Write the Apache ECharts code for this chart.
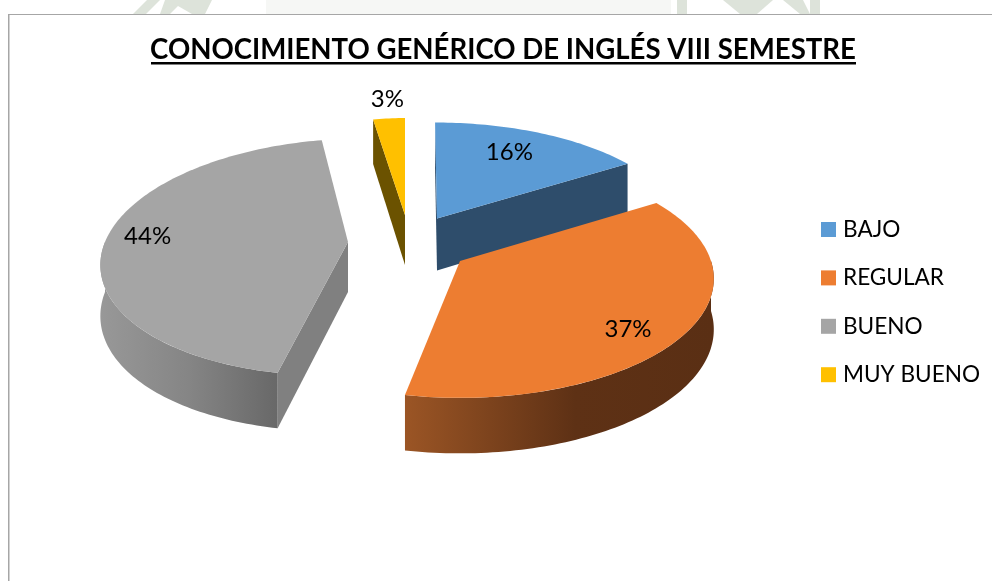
<!DOCTYPE html>
<html>
<head>
<meta charset="utf-8">
<style>html,body{margin:0;padding:0;background:#fff}#c{width:992px;height:581px}</style>
<script src="https://cdn.jsdelivr.net/npm/echarts@6/dist/echarts.min.js"></script>
</head>
<body>
<div id="c"></div>
<script>
var titleText = 'CONOCIMIENTO GENÉRICO DE INGLÉS VIII SEMESTRE';
var categories = ['BAJO', 'REGULAR', 'BUENO', 'MUY BUENO'];
var shares = [16, 37, 44, 3];
var colors = ['#5B9BD5', '#ED7D31', '#A5A5A5', '#FFC000'];

// Layout only: where each exploded slice's apex sits and how its ellipse is shaped
var sliceLayout = [
  {tip:[437,218.5], rx:245, ryk:0.945, p:0.148, skew:0.02, extra:2, face:'#2E4D6B',
   wall:[[0,'#2E4D6B'],[1,'#2E4D6B']], z:3, label:[0.75,-7,0]},
  {tip:[460,261], rx:251, ryk:1, p:0.148, skew:0, extra:0, face:'#7A3F18',
   wall:[[0,'#9B5525'],[0.55,'#5E3115'],[1,'#5A2F14']], z:4, label:[0.75,2,16]},
  {tip:[348,242], rx:243, ryk:1, p:0.127, skew:-0.14, extra:0, face:'#808080',
   wall:[[0,'#989898'],[0.5,'#858585'],[1,'#686868']], z:2, label:[0.8,-6,-6]},
  {tip:[405,215], rx:195, ryk:0.955, p:0.148, skew:0, extra:0, face:'#6B5200',
   wall:[[0,'#6B5200'],[1,'#6B5200']], z:2, label:[1.2,1,-3]}
];
var RY = 116.6;
var watermark = [
  [[133,14],[147,0],[160,0],[146,14]],
  [[165,0],[212,0],[205,14],[192,14],[178,6],[170,14],[160,14]],
  [[677,0],[687,0],[687,14],[677,14]],
  [[723,0],[773,0],[757,14],[740,14]],
  [[783,0],[803,0],[810,14],[800,14]],
  [[810,0],[820,0],[820,14],[810,14]]
];

function project(L, a, r) {
  var u = Math.sin(a) * r, v = Math.cos(a) * r;
  var s = 1 / (1 + L.p * v);
  var dy = -RY * L.ryk * v * s;
  var dx = L.rx * u * s + L.skew * dy;
  return {x: L.tip[0] + dx, y: L.tip[1] + dy, v: v};
}
function depthAt(L, v) { return 50 - 5.5 * v + L.extra; }
function arcPoints(L, a0, a1) {
  var pts = [], n = Math.max(2, Math.ceil((a1 - a0) / 0.02));
  for (var i = 0; i <= n; i++) {
    var p = project(L, a0 + (a1 - a0) * i / n, 1);
    pts.push(p);
  }
  return pts;
}
function hangsBelow(tip, p, mid) {
  // the radial wall shows if the slice's top lies above this edge on screen
  if (Math.abs(p.x - tip[0]) < 1e-6) return false;
  var yOnLine = tip[1] + (mid.x - tip[0]) * (p.y - tip[1]) / (p.x - tip[0]);
  return mid.y < yOnLine;
}

function makeRender(index) {
  return function (params, api) {
    var L = sliceLayout[index];
    var value = api.value(0), before = api.value(1);
    var a0 = before / 100 * 2 * Math.PI, a1 = (before + value) / 100 * 2 * Math.PI;
    var kids = [];
    var tipPt = {x: L.tip[0], y: L.tip[1], v: 0};
    var midA = (a0 + a1) / 2;
    var mid = project(L, midA, 0.6);

    // radial faces
    [a0, a1].forEach(function (a) {
      var p = project(L, a, 1);
      if (hangsBelow(L.tip, p, mid)) {
        kids.push({type:'polygon', shape:{points:[
          [tipPt.x, tipPt.y], [p.x, p.y], [p.x, p.y + depthAt(L, p.v)], [tipPt.x, tipPt.y + depthAt(L, 0)]
        ]}, style:{fill:L.face}});
      }
    });

    // rim wall, front half only
    var w0 = Math.max(a0, Math.PI / 2), w1 = Math.min(a1, Math.PI * 1.5);
    if (w1 > w0) {
      var rim = arcPoints(L, w0, w1), pts = [], i;
      for (i = 0; i < rim.length; i++) pts.push([rim[i].x, rim[i].y]);
      for (i = rim.length - 1; i >= 0; i--) pts.push([rim[i].x, rim[i].y + depthAt(L, rim[i].v)]);
      var stops = L.wall.map(function (s) { return {offset:s[0], color:s[1]}; });
      kids.push({type:'polygon', shape:{points:pts},
        style:{fill:{type:'linear', x:0, y:0, x2:1, y2:0, colorStops: (rim[0].x > rim[rim.length-1].x) ? stops : stops.slice().reverse().map(function(s){return {offset:1-s.offset,color:s.color};})}}});
    }

    // top face
    var top = [[tipPt.x, tipPt.y]].concat(arcPoints(L, a0, a1).map(function (p) { return [p.x, p.y]; }));
    kids.push({type:'polygon', shape:{points:top}, style:{fill:colors[index]}});

    // percentage label
    var lp = project(L, midA, L.label[0]);
    kids.push({type:'text', z2:50, style:{
      x: lp.x + L.label[1], y: lp.y + L.label[2],
      text: value + '%', fill:'#000', font:'24px Lato', align:'center', verticalAlign:'middle'
    }});
    return {type:'group', children:kids};
  };
}

var running = 0;
var series = categories.map(function (name, i) {
  var s = {
    type:'custom', name:name, coordinateSystem:'none', silent:true, animation:false,
    z:sliceLayout[i].z, itemStyle:{color:colors[i]},
    data:[[shares[i], running]],
    renderItem:makeRender(i)
  };
  running += shares[i];
  return s;
});

var decor = watermark.map(function (pts) {
  return {type:'polygon', shape:{points:pts}, style:{fill:'#DDE3DA'}};
});
decor.push({type:'rect', shape:{x:266,y:0,width:405,height:14}, style:{fill:'#F6F7F5'}});
decor.push({type:'rect', shape:{x:8,y:14,width:984,height:1}, style:{fill:'#A6A6A6'}});
decor.push({type:'rect', shape:{x:8,y:14,width:1.5,height:567}, style:{fill:'#A6A6A6'}});
decor.push({type:'rect', shape:{x:151,y:62,width:705,height:2.5}, style:{fill:'#000'}});

var chart = echarts.init(document.getElementById('c'), null, {renderer:'canvas'});
chart.setOption({
  animation:false,
  backgroundColor:'#fff',
  title:{text:titleText, left:498, textAlign:'center', top:31,
    textStyle:{fontFamily:'Lato', fontWeight:'bold', fontSize:27.6, color:'#000'}},
  legend:{orient:'vertical', left:821, top:217.5, padding:0, icon:'rect', itemWidth:15, itemHeight:15, itemGap:24.4,
    selectedMode:false, data:categories,
    textStyle:{fontFamily:'Lato', fontSize:22.6, color:'#000', padding:[0,0,0,2], lineHeight:24}},
  graphic:decor,
  series:series
});
</script>
</body>
</html>
